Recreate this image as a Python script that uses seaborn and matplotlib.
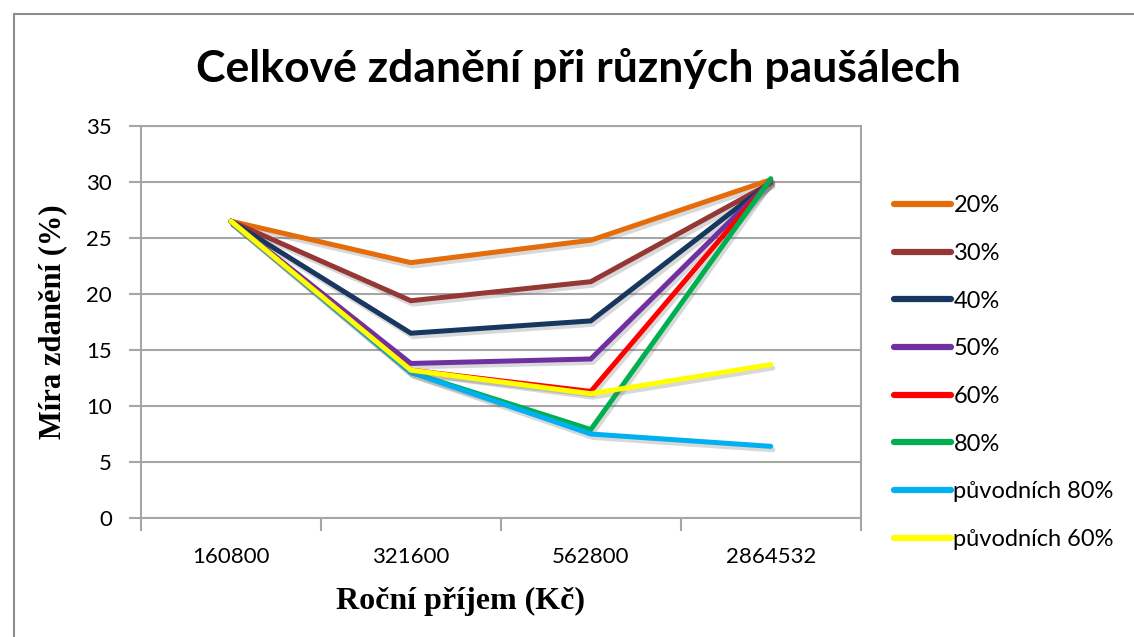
import seaborn as sns
import matplotlib.pyplot as plt
import matplotlib.patheffects as pe
import pandas as pd

# =========================
# data
# =========================

incomes = ["160800", "321600", "562800", "2864532"]

series_names = ["20%", "30%", "40%", "50%", "60%", "80%",
                "původních 80%", "původních 60%"]

rate_20 = [26.5, 22.8, 24.8, 30.2]
rate_30 = [26.5, 19.4, 21.1, 29.9]
rate_40 = [26.5, 16.5, 17.6, 30.0]
rate_50 = [26.5, 13.8, 14.2, 30.1]
rate_60 = [26.5, 13.2, 11.3, 30.2]
rate_80 = [26.5, 13.0, 7.9, 30.3]
orig_80 = [26.5, 13.0, 7.5, 6.4]
orig_60 = [26.5, 13.2, 11.1, 13.7]

colors = ["#e46c0a", "#953735", "#17375e", "#7030a0",
          "#ff0000", "#00b050", "#00b0f0", "#ffff00"]

values = [rate_20, rate_30, rate_40, rate_50, rate_60, rate_80, orig_80, orig_60]

rows = []
for name, vals in zip(series_names, values):
    for inc, v in zip(incomes, vals):
        rows.append({"Příjem": inc, "Míra": v, "Paušál": name})
df = pd.DataFrame(rows)

# =========================
# plot
# =========================

sns.set_style("white")
plt.rcParams["font.family"] = ["Lato", "DejaVu Sans"]

fig = plt.figure(figsize=(11.34, 6.37), dpi=100)
ax = fig.add_axes([0.1243, 0.1868, 0.6347, 0.6154])

shadow = [pe.SimpleLineShadow(offset=(1.5, -2.5), shadow_color="#666666", alpha=0.25),
          pe.Normal()]

sns.lineplot(
    data=df,
    x="Příjem",
    y="Míra",
    hue="Paušál",
    hue_order=series_names,
    palette=dict(zip(series_names, colors)),
    sort=False,
    linewidth=3.6,
    ax=ax,
)
for line in ax.get_lines():
    line.set_path_effects(shadow)
    line.set_solid_joinstyle("miter")

ax.set_ylim(0, 35)
ax.set_yticks(range(0, 36, 5))
ax.set_xlim(-0.5, 3.5)
ax.set_xticks(range(len(incomes)))
ax.set_xticklabels(incomes)
ax.set_xticks([-0.5, 0.5, 1.5, 2.5, 3.5], minor=True)

ax.grid(axis="y", color="#a6a6a6", linewidth=1.5)
ax.set_axisbelow(True)
for side in ["left", "bottom", "right", "top"]:
    ax.spines[side].set_color("#a6a6a6")
    ax.spines[side].set_linewidth(1.5)

ax.tick_params(axis="y", which="major", length=9, width=1.5, color="#a6a6a6",
               labelsize=16, pad=12, left=True, labelcolor="black")
ax.tick_params(axis="x", which="major", length=0, labelsize=16, pad=21,
               labelcolor="black")
ax.tick_params(axis="x", which="minor", length=9, width=1.5, color="#a6a6a6",
               bottom=True, direction="out")

ax.set_xlabel("Roční příjem (Kč)", family="Liberation Serif", fontweight="bold",
              fontsize=23, color="black")
ax.xaxis.set_label_coords(0.444, -0.176)
ax.set_ylabel("Míra zdanění (%)", family="Liberation Serif", fontweight="bold",
              fontsize=22, color="black")
ax.yaxis.set_label_coords(-0.103, 0.5)

fig.suptitle("Celkové zdanění při různých paušálech", x=0.51, y=0.925,
             fontsize=32, fontweight="bold", color="black")

handles, labels = ax.get_legend_handles_labels()
ax.get_legend().remove()
leg = fig.legend(handles, labels, loc="upper left", bbox_to_anchor=(0.770, 0.727),
                 frameon=False, fontsize=17, handlelength=2.4, handletextpad=0.1,
                 labelspacing=1.13, labelcolor="black")
for h in leg.get_lines():
    h.set_linewidth(4.5)
    h.set_solid_capstyle("round")
    h.set_path_effects([])

# outer chart border
fig.patches.append(plt.Rectangle((14 / 1134, -0.01), 1.2, 1 - 14 / 637 + 0.01,
                                 transform=fig.transFigure, fill=False,
                                 edgecolor="#8c8c8c", linewidth=1.5))

fig.savefig("out.png", dpi=100)
